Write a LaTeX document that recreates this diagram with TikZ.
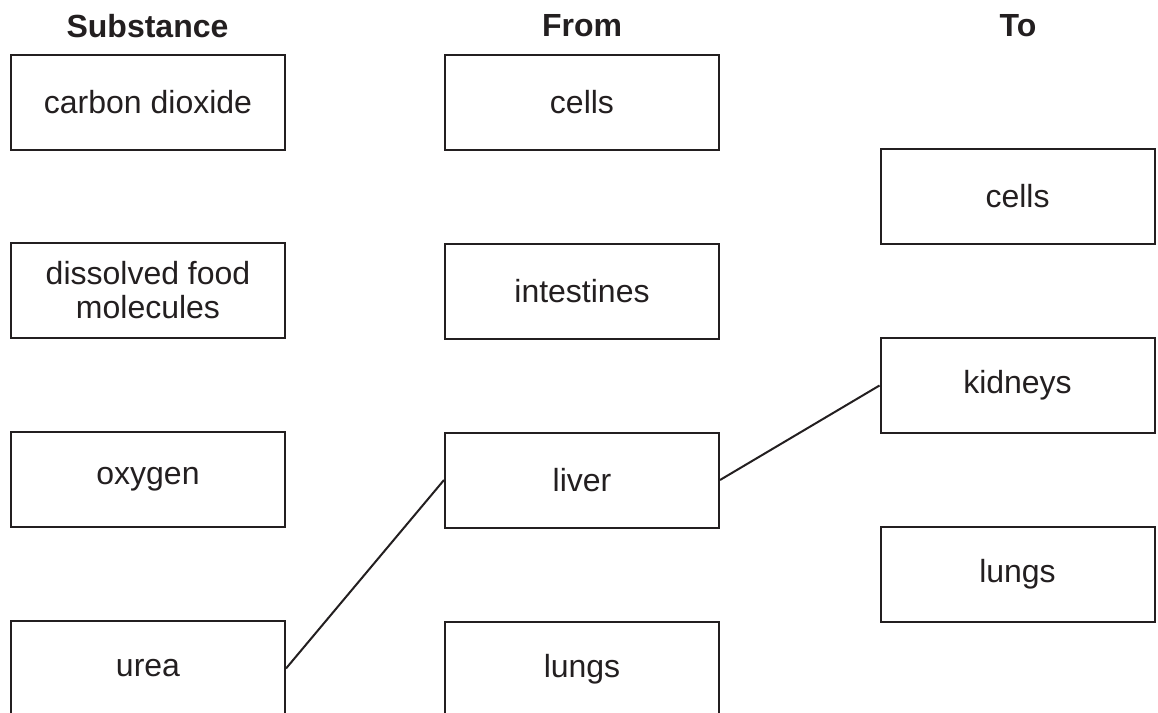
\documentclass[tikz,border=0pt]{standalone}
\usepackage{fontspec}
\setmainfont{Liberation Sans}
\usepackage{xcolor}
\usepackage{tikz}
\definecolor{ink}{HTML}{231F20}
\tikzset{
  answerbox/.style={draw=ink, line width=1pt, minimum width=137pt, minimum height=47.5pt, inner sep=0pt, align=center, text=ink, font=\fontsize{16}{17}\selectfont},
  colhead/.style={text=ink, font=\fontsize{16}{19}\selectfont\bfseries},
  link/.style={draw=ink, line width=1pt}
}
\begin{document}
\begin{tikzpicture}[x=0.5pt,y=-0.5pt]
  \clip (0,0) rectangle (1158,713);

  \node[colhead] (hSubstance) at (147.5,26) {Substance};
  \node[colhead] (hFrom) at (582,26) {From};
  \node[colhead] (hTo) at (1018,26) {To};

  % substance column
  \node[answerbox] (subCO2) at (148,102.5) {carbon dioxide};
  \node[answerbox] (subFood) at (148,290) {dissolved food\\molecules};
  \node[answerbox] (subOxygen) at (148,479.5) {oxygen};
  \node[answerbox] (subUrea) at (148,668.5) {urea};

  % from column
  \node[answerbox] (fromCells) at (582,102.5) {cells};
  \node[answerbox] (fromIntestines) at (582,291.5) {intestines};
  \node[answerbox] (fromLiver) at (582,480) {liver};
  \node[answerbox] (fromLungs) at (582,669) {lungs};

  % to column
  \node[answerbox] (toCells) at (1017.5,196.5) {cells};
  \node[answerbox] (toKidneys) at (1017.5,385.5) {kidneys};
  \node[answerbox] (toLungs) at (1017.5,574.5) {lungs};

  \draw[link] (subUrea.east) -- (fromLiver.west);
  \draw[link] (fromLiver.east) -- (toKidneys.west);
\end{tikzpicture}
\end{document}
